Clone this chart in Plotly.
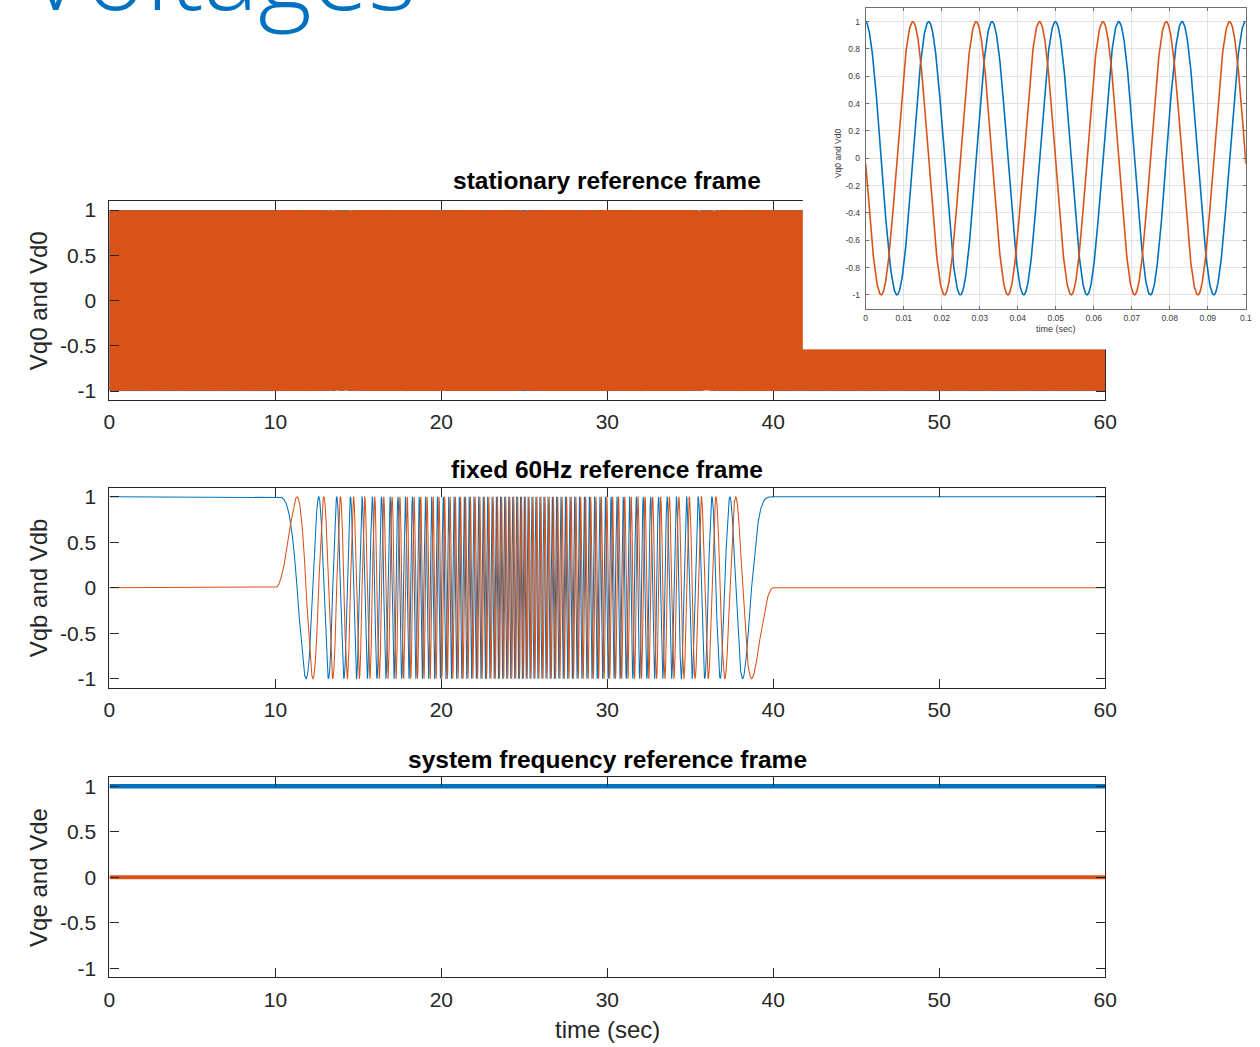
import numpy as np
import plotly.graph_objects as go

# ---------------- data ----------------
nominal_freq_hz = 60.0                       # base system frequency
freq_knot_time = [0, 10, 25, 40, 60]         # s, system frequency profile knots
freq_knot_dev = [0.0, 0.0, -4.4, 0.0, 0.0]   # Hz deviation from 60 Hz at the knots
inset_time_range = [0.0, 0.1]                # s, zoomed inset window
inset_phase_offset = 0.04                    # rad, small phase offset seen in inset
vqe_level = 1.0                              # synchronous frame q value
vde_level = 0.0                              # synchronous frame d value

x_ticks = [0, 10, 20, 30, 40, 50, 60]
y_ticks = [-1, -0.5, 0, 0.5, 1]
y_tick_text = ["-1", "-0.5", "0", "0.5", "1"]
inset_x_ticks = [0, 0.01, 0.02, 0.03, 0.04, 0.05, 0.06, 0.07, 0.08, 0.09, 0.1]
inset_x_text = ["0", "0.01", "0.02", "0.03", "0.04", "0.05", "0.06", "0.07", "0.08", "0.09", "0.1"]
inset_y_ticks = [-1, -0.8, -0.6, -0.4, -0.2, 0, 0.2, 0.4, 0.6, 0.8, 1]
inset_y_text = ["-1", "-0.8", "-0.6", "-0.4", "-0.2", "0", "0.2", "0.4", "0.6", "0.8", "1"]

titles = ["stationary reference frame", "fixed 60Hz reference frame", "system frequency reference frame"]
ylabels = ["Vq0 and Vd0", "Vqb and Vdb", "Vqe and Vde"]

BLUE = "#0072BD"
ORANGE = "#D95319"
AX = "#262626"
FONT = "Liberation Sans, Arial, Helvetica, sans-serif"

# ---------------- signals derived from the frequency profile ----------------
t = np.arange(0, 60.0005, 0.001)
dev = np.interp(t, freq_knot_time, freq_knot_dev)
theta_dev = 2 * np.pi * np.concatenate([[0.0], np.cumsum((dev[1:] + dev[:-1]) / 2 * np.diff(t))])
theta_s = 2 * np.pi * nominal_freq_hz * t + theta_dev
vq0 = np.cos(theta_s)
vd0 = -np.sin(theta_s)
phi = -theta_dev
vqb = np.cos(phi)
vdb = np.sin(phi)

ti = np.linspace(inset_time_range[0], inset_time_range[1], 1201)
vq0_i = np.cos(2 * np.pi * nominal_freq_hz * ti + inset_phase_offset)
vd0_i = -np.sin(2 * np.pi * nominal_freq_hz * ti + inset_phase_offset)

t3 = np.array(freq_knot_time, dtype=float)
vqe = np.full_like(t3, vqe_level)
vde = np.full_like(t3, vde_level)

W, H = 1260, 1047
def px(x):
    # horizontal pixel -> paper fraction (small empirical correction)
    return min(1.0, (x - 4.3) / 0.988 / W)
def py(y):
    return 1 - y / H

fig = go.Figure()
lw_main = 1.05
fig.add_trace(go.Scatter(x=t, y=vq0, mode="lines", line=dict(color=BLUE, width=0.7), xaxis="x", yaxis="y", hoverinfo="skip"))
fig.add_trace(go.Scatter(x=t, y=vd0, mode="lines", line=dict(color=ORANGE, width=2.2), xaxis="x", yaxis="y", hoverinfo="skip"))
fig.add_trace(go.Scatter(x=t, y=vqb, mode="lines", line=dict(color=BLUE, width=lw_main), xaxis="x2", yaxis="y2", hoverinfo="skip"))
fig.add_trace(go.Scatter(x=t, y=vdb, mode="lines", line=dict(color=ORANGE, width=lw_main), xaxis="x2", yaxis="y2", hoverinfo="skip"))
fig.add_trace(go.Scatter(x=t3, y=vqe, mode="lines", line=dict(color=BLUE, width=4.5), xaxis="x3", yaxis="y3", hoverinfo="skip"))
fig.add_trace(go.Scatter(x=t3, y=vde, mode="lines", line=dict(color=ORANGE, width=4.0), xaxis="x3", yaxis="y3", hoverinfo="skip"))
# white backing panel for the pasted inset (covers its whole subplot domain)
fig.add_trace(go.Scatter(x=[0, 1, 1, 0], y=[0, 0, 1, 1], fill="toself", fillcolor="white",
                         mode="lines", line=dict(width=0, color="white"), xaxis="x4", yaxis="y4", hoverinfo="skip"))
fig.add_trace(go.Scatter(x=ti, y=vq0_i, mode="lines", line=dict(color=BLUE, width=1.6), xaxis="x5", yaxis="y5", hoverinfo="skip"))
fig.add_trace(go.Scatter(x=ti, y=vd0_i, mode="lines", line=dict(color=ORANGE, width=1.6), xaxis="x5", yaxis="y5", hoverinfo="skip"))

panel_boxes = [(199, 399), (487, 688), (778, 979)]
x0p, x1p = 108, 1106

layout = dict(
    width=W, height=H, margin=dict(l=0, r=0, t=0, b=0),
    paper_bgcolor="white", plot_bgcolor="white", showlegend=False,
    font=dict(family=FONT, color=AX),
)
for i, (ytop, ybot) in enumerate(panel_boxes):
    n = "" if i == 0 else str(i + 1)
    layout["xaxis" + n] = dict(
        domain=[px(x0p), px(x1p)], anchor="y" + n, range=[0, 60],
        tickmode="array", tickvals=x_ticks, ticktext=[str(v) for v in x_ticks],
        ticks="inside", ticklen=9, tickwidth=1.2, tickcolor=AX,
        showline=True, linecolor=AX, linewidth=1.3, mirror="ticks",
        showgrid=False, zeroline=False, tickfont=dict(size=21, color=AX, family=FONT),
        ticklabelstandoff=3,
    )
    layout["yaxis" + n] = dict(
        domain=[py(ybot), py(ytop)], anchor="x" + n, range=[-1.1, 1.1],
        tickmode="array", tickvals=y_ticks, ticktext=y_tick_text,
        ticks="inside", ticklen=9, tickwidth=1.2, tickcolor=AX,
        showline=True, linecolor=AX, linewidth=1.3, mirror="ticks",
        showgrid=False, zeroline=False, tickfont=dict(size=21, color=AX, family=FONT),
        ticklabelstandoff=8,
    )

layout["xaxis4"] = dict(domain=[px(803), 1.0], anchor="y4", range=[0, 1], visible=False, fixedrange=True)
layout["yaxis4"] = dict(domain=[py(348), 1.0], anchor="x4", range=[0, 1], visible=False, fixedrange=True)

GRID = "#e3e3e3"
IAX = "#6e6e6e"
layout["xaxis5"] = dict(
    domain=[px(866), px(1247)], anchor="y5", range=inset_time_range,
    tickmode="array", tickvals=inset_x_ticks, ticktext=inset_x_text,
    ticks="inside", ticklen=3, tickcolor=IAX, tickwidth=0.8,
    showline=True, linecolor=IAX, linewidth=0.9, mirror="ticks",
    showgrid=True, gridcolor=GRID, gridwidth=0.8, zeroline=False,
    tickfont=dict(size=8.5, color="#3a3a3a", family=FONT), ticklabelstandoff=1,
)
layout["yaxis5"] = dict(
    domain=[py(307), py(5)], anchor="x5", range=[-1.1, 1.1],
    tickmode="array", tickvals=inset_y_ticks, ticktext=inset_y_text,
    ticks="inside", ticklen=3, tickcolor=IAX, tickwidth=0.8,
    showline=True, linecolor=IAX, linewidth=0.9, mirror="ticks",
    showgrid=True, gridcolor=GRID, gridwidth=0.8, zeroline=False,
    tickfont=dict(size=8.5, color="#3a3a3a", family=FONT), ticklabelstandoff=3,
)

fig.update_layout(**layout)

ann = []
title_y = [178, 469, 760]
for i, (ytop, ybot) in enumerate(panel_boxes):
    ann.append(dict(text="<b>" + titles[i] + "</b>", x=px(607), y=py(title_y[i]), xref="paper", yref="paper",
                    xanchor="center", yanchor="middle", showarrow=False,
                    font=dict(size=24.5, color="black", family=FONT)))
    ann.append(dict(text=ylabels[i], x=px(37), y=py((ytop + ybot) / 2), xref="paper", yref="paper",
                    xanchor="center", yanchor="middle", showarrow=False, textangle=-90,
                    font=dict(size=24, color=AX, family=FONT)))
ann.append(dict(text="time (sec)", x=px(607), y=py(1031), xref="paper", yref="paper",
                xanchor="center", yanchor="middle", showarrow=False,
                font=dict(size=24, color=AX, family=FONT)))
ann.append(dict(text="Vq0 and Vd0", x=px(839), y=py(151), xref="paper", yref="paper",
                xanchor="center", yanchor="middle", showarrow=False, textangle=-90,
                font=dict(size=8.5, color="#3a3a3a", family=FONT)))
ann.append(dict(text="time (sec)", x=px(1057), y=py(328), xref="paper", yref="paper",
                xanchor="center", yanchor="middle", showarrow=False,
                font=dict(size=9, color="#3a3a3a", family=FONT)))
ann.append(dict(text="Voltages", x=px(22), y=1 + 32.7 / H, xref="paper", yref="paper",
                xanchor="left", yanchor="middle", showarrow=False,
                font=dict(size=103, color="#0070C0", family="Open Sans, sans-serif", weight=300)))
fig.update_layout(annotations=ann)

fig.write_html("out.html")
